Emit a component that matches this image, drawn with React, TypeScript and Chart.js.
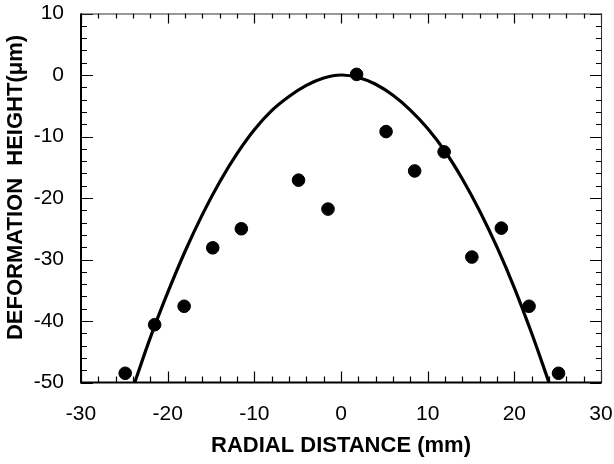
import React, { useEffect, useRef } from "react";
import { Chart, registerables } from "chart.js";

Chart.register(...registerables);

// Measured points (radial distance mm, deformation height µm)
const pointX = [-24.9, -21.5, -18.1, -14.8, -11.5, -4.9, -1.5, 1.8, 5.2, 8.5, 11.9, 15.1, 18.5, 21.7, 25.1];
const pointY = [-48.5, -40.6, -37.6, -28.1, -25.0, -17.1, -21.8, 0.1, -9.2, -15.6, -12.5, -29.6, -24.9, -37.6, -48.5];

// Fitted curve
const curveX = [-23.8, -22, -20, -18, -16, -14, -12, -10, -8, -6, -4, -2, 0, 2, 4, 6, 8, 10, 12, 14, 16, 18, 20, 22, 24.0];
const curveY = [-50, -42.7, -35.4, -28.7, -22.7, -17.4, -12.8, -8.9, -5.8, -3.5, -1.7, -0.5, 0, -0.4, -1.5, -3.3, -5.7, -8.7, -12.4, -16.9, -22.1, -28.0, -34.6, -42.0, -50];

const xMin = -30, xMax = 30, xMajor = 10, xMinor = 2;
const yMin = -50, yMax = 10, yMajor = 10, yMinor = 2;

const xTitle = "RADIAL DISTANCE (mm)";
const yTitle = "DEFORMATION  HEIGHT(\u03bcm)";

const FONT = "'Liberation Sans', Arial, Helvetica, sans-serif";

const frameTicks = {
  id: "frameTicks",
  afterDatasetsDraw(chart: any) {
    const { ctx, chartArea, scales } = chart;
    const { left, right, top, bottom } = chartArea;
    const x = scales.x, y = scales.y;
    ctx.save();
    ctx.strokeStyle = "#000";
    ctx.lineWidth = 1.2;
    ctx.beginPath();
    for (let v = xMin; v <= xMax + 1e-9; v += xMinor) {
      const px = Math.round(x.getPixelForValue(v)) + 0.5;
      const major = Math.abs(v % xMajor) < 1e-9;
      const lb = major ? 11 : 6;
      const lt = major ? 10 : 5;
      ctx.moveTo(px, bottom);
      ctx.lineTo(px, bottom - lb);
      ctx.moveTo(px, top);
      ctx.lineTo(px, top + lt);
    }
    for (let v = yMin; v <= yMax + 1e-9; v += yMinor) {
      const py = Math.round(y.getPixelForValue(v)) + 0.5;
      const major = Math.abs(v % yMajor) < 1e-9;
      const l = major ? 12 : 6;
      const r = major ? 11 : 5;
      ctx.moveTo(left, py);
      ctx.lineTo(left + l, py);
      ctx.moveTo(right, py);
      ctx.lineTo(right - r, py);
    }
    ctx.stroke();
    // frame
    ctx.lineWidth = 1;
    ctx.strokeStyle = "#333";
    ctx.beginPath();
    ctx.moveTo(left, top + 0.5);
    ctx.lineTo(right + 0.5, top + 0.5);
    ctx.lineTo(right + 0.5, bottom);
    ctx.stroke();
    ctx.lineWidth = 2;
    ctx.strokeStyle = "#000";
    ctx.beginPath();
    ctx.moveTo(left, top);
    ctx.lineTo(left, bottom);
    ctx.lineTo(right + 1, bottom);
    ctx.stroke();
    ctx.restore();
  },
  afterDraw(chart: any) {
    const { ctx, chartArea } = chart;
    ctx.save();
    ctx.fillStyle = "#000";
    ctx.font = `bold 22px ${FONT}`;
    ctx.textAlign = "center";
    ctx.textBaseline = "middle";
    ctx.translate(15.5, (chartArea.top + chartArea.bottom) / 2 - 10.5);
    ctx.rotate(-Math.PI / 2);
    ctx.fillText(yTitle, 0, 0);
    ctx.restore();
  },
};

export default function App() {
  const ref = useRef<HTMLCanvasElement | null>(null);

  useEffect(() => {
    document.body.style.margin = "0";
    const canvas = ref.current;
    if (!canvas) return;
    const chart = new Chart(canvas, {
      type: "scatter",
      data: {
        datasets: [
          {
            label: "measured",
            data: pointX.map((v, i) => ({ x: v, y: pointY[i] })),
            backgroundColor: "#000",
            borderColor: "#000",
            pointRadius: 6.3,
            pointHoverRadius: 6.3,
            showLine: false,
            order: 0,
          },
          {
            label: "fit",
            data: curveX.map((v, i) => ({ x: v, y: curveY[i] })),
            showLine: true,
            borderColor: "#000",
            borderWidth: 3.2,
            pointRadius: 0,
            tension: 0.4,
            fill: false,
            order: 1,
          },
        ],
      },
      options: {
        responsive: false,
        animation: false,
        events: [],
        layout: { padding: { top: 13.5, right: 13, left: 0, bottom: 0 } },
        plugins: {
          legend: { display: false },
          tooltip: { enabled: false },
          title: { display: false },
        },
        scales: {
          x: {
            type: "linear",
            min: xMin,
            max: xMax,
            afterFit: (s: any) => {
              s.height = 81.5;
              s.paddingLeft = 0;
              s.paddingRight = 0;
            },
            grid: { display: false, drawTicks: false },
            border: { display: false },
            ticks: {
              stepSize: xMajor,
              padding: 19,
              color: "#000",
              font: { family: FONT, size: 21 },
              maxRotation: 0,
            },
            title: {
              display: true,
              text: xTitle,
              color: "#000",
              font: { family: FONT, size: 22, weight: "bold" },
              padding: { top: 0, bottom: 5 },
            },
          },
          y: {
            type: "linear",
            min: yMin,
            max: yMax,
            afterFit: (s: any) => {
              s.width = 81;
              s.paddingTop = 0;
              s.paddingBottom = 0;
            },
            grid: { display: false, drawTicks: false },
            border: { display: false },
            ticks: {
              stepSize: yMajor,
              padding: 17,
              color: "#000",
              font: { family: FONT, size: 21 },
            },
            title: { display: false, text: yTitle },
          },
        },
      },
      plugins: [frameTicks],
    });
    return () => chart.destroy();
  }, []);

  return (
    <div style={{ width: 614, height: 464, background: "#fff" }}>
      <canvas ref={ref} width={614} height={464} />
    </div>
  );
}
